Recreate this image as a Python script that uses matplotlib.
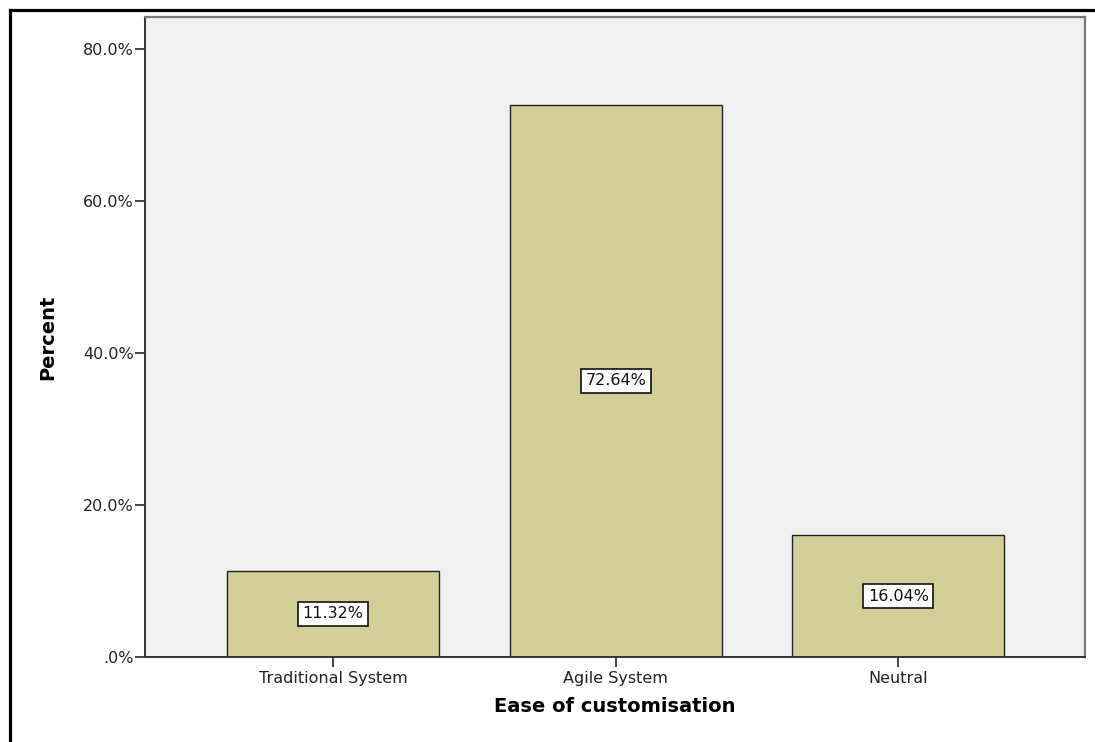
import matplotlib
matplotlib.use("Agg")
import matplotlib.pyplot as plt
from matplotlib.lines import Line2D

categories = ["Traditional System", "Agile System", "Neutral"]
percents = [11.32, 72.64, 16.04]
yticks = [0, 20, 40, 60, 80]
ytick_labels = [".0%", "20.0%", "40.0%", "60.0%", "80.0%"]

plt.rcParams['font.family'] = ['DejaVu Sans']

fig = plt.figure(figsize=(10.95, 7.42), dpi=100)
ax = fig.add_axes([145/1095, 1 - 657/742, (1085-145)/1095, (657-17)/742])
ax.set_facecolor("#F0F0F0")

x = list(range(len(categories)))
ax.bar(x, percents, width=0.75, color="#D3CE97", edgecolor="#222222", linewidth=1.0, zorder=2)

for xi, v in zip(x, percents):
    ax.text(xi, v / 2, f"{v:.2f}%", ha="center", va="center", fontsize=11.5, color="#111111",
            bbox=dict(boxstyle="square,pad=0.28", facecolor="white", edgecolor="#111111", linewidth=1.2),
            zorder=3)

ax.set_xlim(-0.665, 2.66)
ax.set_ylim(0, 84.2)
ax.set_yticks(yticks)
ax.set_yticklabels(ytick_labels)
ax.set_xticks(x)
ax.set_xticklabels(categories)
ax.tick_params(axis="y", direction="out", length=7, width=1.2, pad=1, labelsize=11.5, colors="#222222")
ax.tick_params(axis="x", direction="out", length=7, width=1.2, pad=3, labelsize=11.5, colors="#222222")

for s in ["left", "bottom"]:
    ax.spines[s].set_color("#333333")
    ax.spines[s].set_linewidth(1.4)
for s in ["top", "right"]:
    ax.spines[s].set_color("#777777")
    ax.spines[s].set_linewidth(1.6)

ax.set_xlabel("Ease of customisation", fontsize=14, fontweight="bold", labelpad=8)
fig.text(48/1095, 1 - 337/742, "Percent", rotation=90, ha="center", va="center",
         fontsize=14, fontweight="bold")

# figure frame (top and left edges visible)
fig.add_artist(Line2D([9.5/1095, 9.5/1095], [0, 1 - 9.5/742], transform=fig.transFigure,
                      color="black", linewidth=2.3))
fig.add_artist(Line2D([9.5/1095, 1], [1 - 9.5/742, 1 - 9.5/742], transform=fig.transFigure,
                      color="black", linewidth=2.3))

fig.savefig("out.png", dpi=100)
